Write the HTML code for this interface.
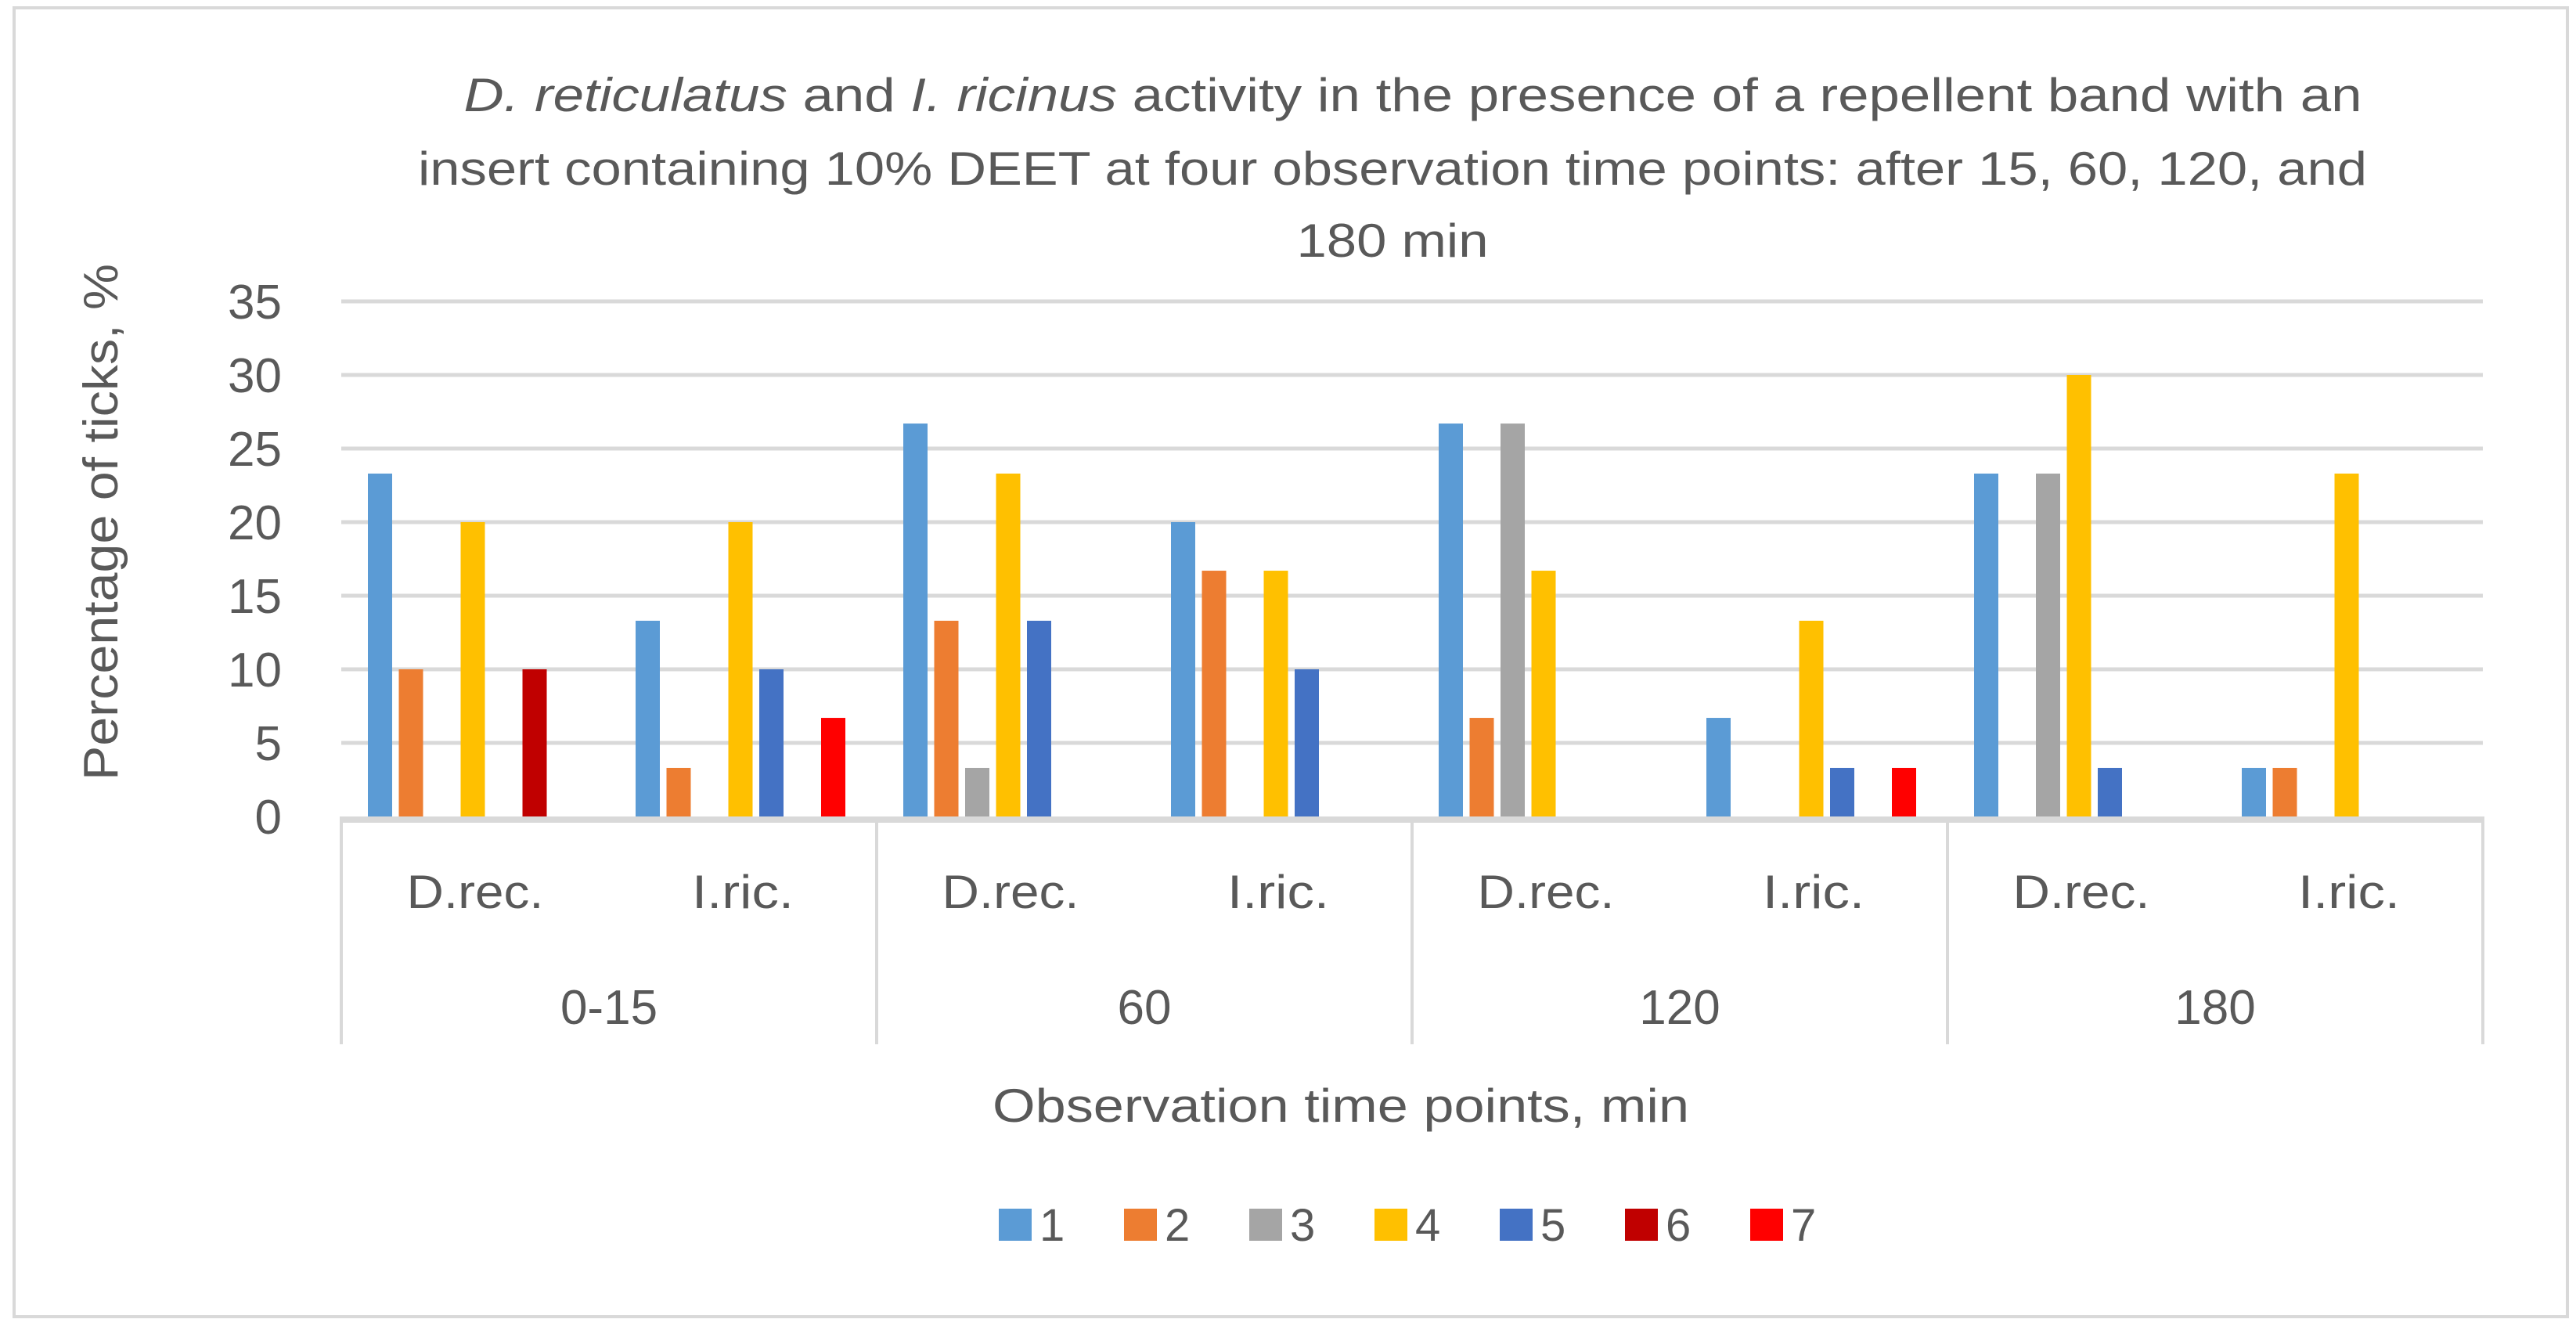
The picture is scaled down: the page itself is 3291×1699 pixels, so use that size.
<!DOCTYPE html>
<html><head><meta charset="utf-8"><style>
html,body{margin:0;padding:0;background:#fff;}
svg{display:block;font-family:"Liberation Sans",sans-serif;}
</style></head><body>
<svg id="chart" width="3291" height="1699" viewBox="0 0 3291 1699" xmlns="http://www.w3.org/2000/svg">
<rect x="18" y="10" width="3262" height="1672" fill="#fff" stroke="#d9d9d9" stroke-width="4"/>
<g fill="#595959" font-size="60" text-anchor="middle">
<text x="1805" y="142" textLength="2425" lengthAdjust="spacingAndGlyphs"><tspan font-style="italic">D. reticulatus</tspan> and <tspan font-style="italic">I. ricinus</tspan> activity in the presence of a repellent band with an</text>
<text x="1779" y="236" textLength="2490" lengthAdjust="spacingAndGlyphs">insert containing 10% DEET at four observation time points: after 15, 60, 120, and</text>
<text x="1779" y="328" textLength="245" lengthAdjust="spacingAndGlyphs">180 min</text>
</g>
<g id="grid"></g>
<g id="bars"></g>
<g id="axes"></g>
<text x="0" y="0" transform="translate(150,667) rotate(-90)" text-anchor="middle" font-size="62" fill="#595959" textLength="660" lengthAdjust="spacingAndGlyphs">Percentage of ticks, %</text>
<text x="1713" y="1433" text-anchor="middle" font-size="60" fill="#595959" textLength="890" lengthAdjust="spacingAndGlyphs">Observation time points, min</text>
<g id="legend"></g>
</svg>
<script>
const groups = ["0-15","60","120","180"];
const subs = ["D.rec.","I.ric."];
const seriesNames = ["1","2","3","4","5","6","7"];
const colors = ["#5B9BD5","#ED7D31","#A5A5A5","#FFC000","#4472C4","#C00000","#FF0000"];
const s1 = [23.3,13.3,26.7,20,26.7,6.7,23.3,3.3];
const s2 = [10,3.3,13.3,16.7,6.7,0,0,3.3];
const s3 = [0,0,3.3,0,26.7,0,23.3,0];
const s4 = [20,20,23.3,16.7,16.7,13.3,30,23.3];
const s5 = [0,10,13.3,10,0,3.3,3.3,0];
const s6 = [10,0,0,0,0,0,0,0];
const s7 = [0,6.7,0,0,0,3.3,0,0];
const yTicks = [0,5,10,15,20,25,30,35];

const series = [s1,s2,s3,s4,s5,s6,s7];
const NS="http://www.w3.org/2000/svg";
const X0=436, X1=3172, Y0=1043, Y1=385, YMAX=35;
const y = v => Y0 - (v/YMAX)*(Y0-Y1);
const catW = (X1-X0)/(groups.length*subs.length);
const pitch = 39.5, bw = 31, pad = (catW - 6*pitch - bw)/2 - 3;
const xBar = (c,s) => X0 + c*catW + pad + s*pitch;
function mk(tag, attrs, parent){const e=document.createElementNS(NS,tag);for(const k in attrs)e.setAttribute(k,attrs[k]);parent.appendChild(e);return e;}
const grid=document.getElementById('grid'), bars=document.getElementById('bars'), axes=document.getElementById('axes'), legend=document.getElementById('legend');
yTicks.forEach(t=>{
  if(t>0){const l=mk('line',{x1:X0,x2:X1,y1:y(t),y2:y(t),stroke:'#d9d9d9','stroke-width':5},grid);
  
  }
  const tx=mk('text',{x:360,y:y(t)+22,'text-anchor':'end','font-size':62,fill:'#595959'},axes);
  tx.textContent=t;
  
  
});
series.forEach((arr,si)=>{
  arr.forEach((v,c)=>{
    if(v<=0)return;
    const r=mk('rect',{x:xBar(c,si),y:y(v),width:bw,height:Y0-y(v),fill:colors[si]},bars);
    
    
  });
});
const ax=mk('line',{x1:X0,x2:X1,y1:Y0+4,y2:Y0+4,stroke:'#d9d9d9',"stroke-width":8},axes);


for(let g=0;g<=groups.length;g++){
  const x=X0+g*catW*2;
  const l=mk('line',{x1:x,x2:x,y1:Y0,y2:1334,stroke:'#d9d9d9','stroke-width':4},axes);
  
  
}
for(let c=0;c<groups.length*subs.length;c++){
  const w = c%2===0 ? 175 : 130;
  const t=mk('text',{x:X0+(c+0.5)*catW,y:1160,'text-anchor':'middle','font-size':60,fill:'#595959',textLength:w,lengthAdjust:'spacingAndGlyphs'},axes);
  t.textContent=subs[c%2];
  
  
}
groups.forEach((g,i)=>{
  const t=mk('text',{x:X0+(i+0.5)*catW*2,y:1308,'text-anchor':'middle','font-size':62,fill:'#595959'},axes);
  t.textContent=g;
  
  
});
seriesNames.forEach((n,i)=>{
  const x0=1276+i*160;
  const g=mk('g',{},legend);
  
  
  mk('rect',{x:x0,y:1544,width:42,height:41,fill:colors[i]},g);
  const t=mk('text',{x:x0+52,y:1585,'font-size':58,fill:'#595959'},g);
  t.textContent=n;
});
</script>
</body></html>
